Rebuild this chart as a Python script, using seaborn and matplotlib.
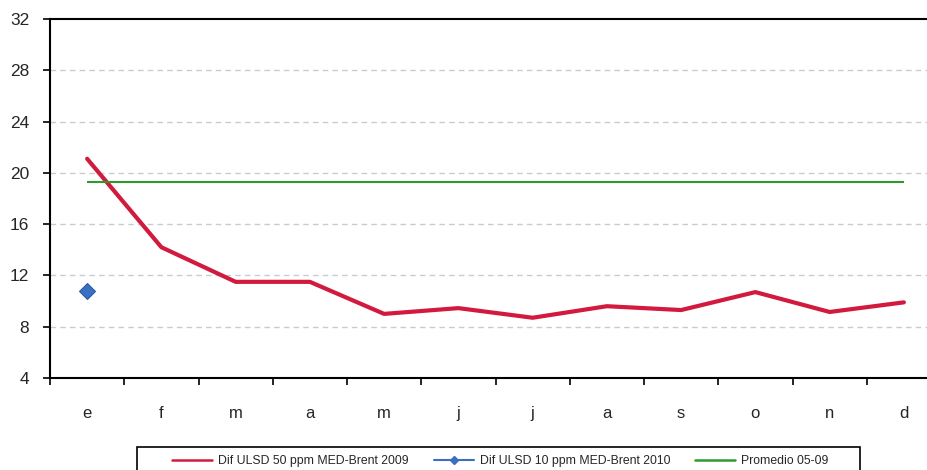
import matplotlib.pyplot as plt
import matplotlib.ticker as mtick
from matplotlib.lines import Line2D
from matplotlib.patches import Rectangle
import numpy as np
import pandas as pd
import seaborn as sns

# ---------------------------------------------------------------- data
months = ["e", "f", "m", "a", "m", "j", "j", "a", "s", "o", "n", "d"]
dif_2009 = [21.1, 14.2, 11.5, 11.5, 9.0, 9.45, 8.7, 9.6, 9.3, 10.7, 9.15, 9.9]
dif_2010 = [10.8]
promedio = 19.3

labels = ["Dif ULSD 50 ppm MED-Brent 2009",
          "Dif ULSD 10 ppm MED-Brent 2010",
          "Promedio 05-09"]

RED = "#d21a3e"
BLUE = "#3a6fc4"
GREEN = "#2e9a2e"

sns.set_style("white")
plt.rcParams["font.family"] = ["Liberation Sans", "DejaVu Sans"]

df09 = pd.DataFrame({"x": np.arange(len(months)), "v": dif_2009})
df10 = pd.DataFrame({"x": np.arange(len(dif_2010)), "v": dif_2010})

fig = plt.figure(figsize=(9.27, 4.70), dpi=100)
ax = fig.add_axes([50 / 927, 1 - 378 / 470, 891 / 927, 359 / 470])

sns.lineplot(data=df09, x="x", y="v", color=RED, linewidth=3, ax=ax, legend=False)
sns.lineplot(data=df10, x="x", y="v", color=BLUE, marker="D", markersize=8,
             markeredgecolor="#2a55a0", linewidth=1.5, ax=ax, legend=False)
ax.hlines(promedio, 0, len(months) - 1, color=GREEN, linewidth=1.5)

ax.set_xlim(-0.5, len(months) - 0.5)
ax.set_ylim(4, 32)
ax.yaxis.set_major_locator(mtick.MultipleLocator(4))
ax.set_xticks(np.arange(len(months)))
ax.set_xticklabels(months)
ax.set_xticks(np.arange(len(months)) - 0.5, minor=True)
ax.tick_params(axis="x", which="major", length=0, pad=20, labelsize=12)
ax.tick_params(axis="x", which="minor", bottom=True, length=5, width=1.2,
               color="black", direction="out")
ax.tick_params(axis="y", length=5, width=1.2, color="black", direction="out",
               pad=10, labelsize=12.5, left=True)
ax.set_xlabel("")
ax.set_ylabel("")

for y in range(8, 32, 4):
    ax.axhline(y, color="#c8ccd2", linestyle=(0, (4, 3)), linewidth=1, zorder=0)

for s in ax.spines.values():
    s.set_color("black")
    s.set_linewidth(1.5)

# legend: box drawn separately, entries laid out inside
fig.patches.append(Rectangle((137 / 927, -0.05), 723 / 927, 0.05 + 23 / 470,
                             transform=fig.transFigure, fill=False,
                             edgecolor="black", linewidth=1.2))
handles = [Line2D([], [], color=RED, linewidth=1.8),
           Line2D([], [], color=BLUE, linewidth=1.5, marker="D", markersize=4.5),
           Line2D([], [], color=GREEN, linewidth=1.8)]
fig.legend(handles, labels, loc="center left", bbox_to_anchor=(172 / 927, 1 - 461 / 470),
           ncol=3, fontsize=8.8, frameon=False, handlelength=3.3,
           handletextpad=0.5, columnspacing=2.0, borderpad=0, borderaxespad=0)

plt.savefig("out.png", dpi=100)
plt.close()
